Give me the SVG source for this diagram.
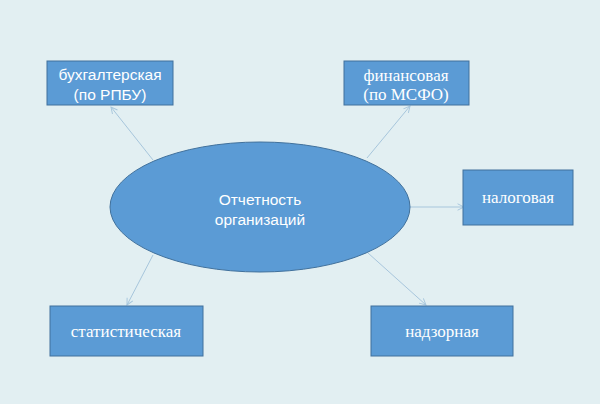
<svg xmlns="http://www.w3.org/2000/svg" width="600" height="404" viewBox="0 0 600 404">
<style>
.box{fill:#5b9bd5;stroke:#41719c;stroke-width:1}
.sans{font-family:"Liberation Sans",Arial,sans-serif;font-size:15.5px;fill:#ffffff;text-anchor:middle}
.serif{font-family:"Liberation Serif","Times New Roman",serif;font-size:17px;fill:#ffffff;text-anchor:middle}
.conn{stroke:#a7c6dc;stroke-width:1;fill:none;marker-end:url(#ah)}
</style>
<defs>
<marker id="ah" viewBox="0 0 10 10" refX="9" refY="5" markerWidth="8" markerHeight="8" markerUnits="userSpaceOnUse" orient="auto">
<path d="M1,1 L9,5 L1,9" fill="none" stroke="#a7c6dc" stroke-width="1.2"/>
</marker>
</defs>
<rect x="0" y="0" width="600" height="404" fill="#e2eff2"/>
<g id="connectors">
<line class="conn" x1="153" y1="160" x2="111" y2="107"/>
<line class="conn" x1="367" y1="158" x2="410" y2="106"/>
<line class="conn" x1="410" y1="207" x2="464" y2="207"/>
<line class="conn" x1="153" y1="255" x2="127" y2="305"/>
<line class="conn" x1="368" y1="253" x2="426" y2="305"/>
</g>
<g id="center">
<ellipse cx="260" cy="207" rx="150" ry="65" class="box"/>
<text class="sans" x="260" y="205">Отчетность</text>
<text class="sans" x="260" y="225">организаций</text>
</g>
<g id="buh">
<rect x="47" y="61" width="126" height="44" class="box"/>
<text class="sans" x="110" y="80">бухгалтерская</text>
<text class="sans" x="110" y="100">(по РПБУ)</text>
</g>
<g id="fin">
<rect x="344" y="61" width="125" height="44" class="box"/>
<text class="serif" x="406" y="81">финансовая</text>
<text class="serif" x="406" y="100">(по МСФО)</text>
</g>
<g id="nal">
<rect x="463" y="170" width="110" height="55" class="box"/>
<text class="serif" x="518" y="203">налоговая</text>
</g>
<g id="stat">
<rect x="50" y="306" width="153" height="50" class="box"/>
<text class="serif" x="126" y="337">статистическая</text>
</g>
<g id="nadz">
<rect x="371" y="306" width="142" height="50" class="box"/>
<text class="serif" x="442" y="337">надзорная</text>
</g>
</svg>
